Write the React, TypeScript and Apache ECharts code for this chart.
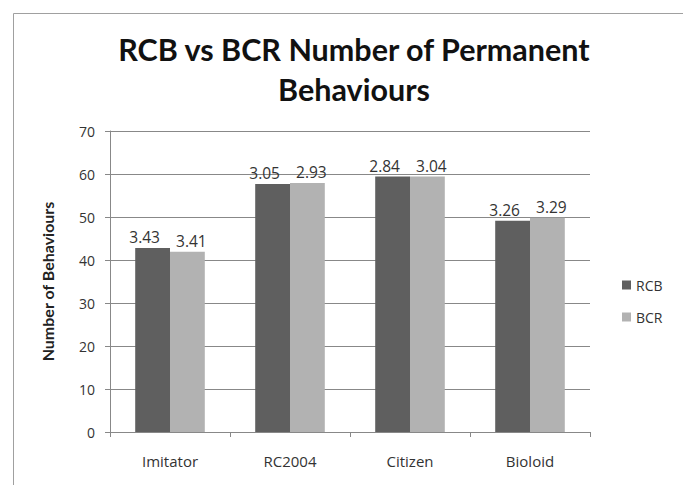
import React, { useEffect, useRef } from "react";
import * as echarts from "echarts";

const categories = ["Imitator", "RC2004", "Citizen", "Bioloid"];
const rcbValues = [42.8, 57.7, 59.4, 49.1];
const bcrValues = [41.9, 57.9, 59.4, 49.8];
const rcbLabels = ["3.43", "3.05", "2.84", "3.26"];
const bcrLabels = ["3.41", "2.93", "3.04", "3.29"];
const seriesNames = ["RCB", "BCR"];
const yTicks = { min: 0, max: 70, interval: 10 };

export default function App() {
  const ref = useRef<HTMLDivElement>(null);
  useEffect(() => {
    document.body.style.margin = "0";
    const chart = echarts.init(ref.current!, undefined, { renderer: "svg" });
    const font = "Open Sans";
    const labelStyle = { color: "#333", fontSize: 15.5, fontFamily: font };
    chart.setOption({
      animation: false,
      backgroundColor: "#fff",
      graphic: [
        {
          type: "rect",
          shape: { x: 13.5, y: 13.5, width: 700, height: 500 },
          style: { fill: "none", stroke: "#a0a0a0", lineWidth: 1 },
          silent: true,
        },
      ],
      title: {
        text: "RCB vs BCR Number of Permanent\nBehaviours",
        left: 349,
        top: 24,
        textAlign: "center",
        textStyle: {
          fontFamily: "Lato",
          fontWeight: "bold",
          fontSize: 30.5,
          lineHeight: 40,
          color: "#111",
        },
      },
      legend: {
        orient: "vertical",
        left: 617,
        top: 273,
        itemWidth: 9,
        itemHeight: 9,
        itemGap: 18,
        icon: "rect",
        textStyle: { fontSize: 14, fontFamily: font, color: "#333" },
        data: seriesNames,
      },
      grid: { left: 110, right: 93, top: 131, bottom: 53 },
      xAxis: {
        type: "category",
        data: categories,
        axisLine: { lineStyle: { color: "#888" } },
        axisTick: { show: true, length: 5, lineStyle: { color: "#888" } },
        axisLabel: { margin: 21, fontSize: 15, fontFamily: font, color: "#333" },
      },
      yAxis: {
        type: "value",
        name: "Number of Behaviours",
        nameLocation: "middle",
        nameGap: 55,
        nameTextStyle: { fontSize: 16, fontWeight: "bold", fontFamily: "Lato", color: "#222" },
        min: yTicks.min,
        max: yTicks.max,
        interval: yTicks.interval,
        axisLine: { show: true, lineStyle: { color: "#888" } },
        axisTick: { show: true, length: 5, lineStyle: { color: "#888" } },
        axisLabel: { margin: 15, fontSize: 14, fontFamily: font, color: "#333" },
        splitLine: { lineStyle: { color: "#888" } },
      },
      series: [
        {
          name: seriesNames[0],
          type: "bar",
          data: rcbValues,
          barGap: "0%",
          barCategoryGap: "42%",
          itemStyle: { color: "#5f5f5f" },
          label: {
            show: true,
            position: "top",
            distance: 3,
            offset: [-8, 0],
            ...labelStyle,
            formatter: (p: any) => rcbLabels[p.dataIndex],
          },
        },
        {
          name: seriesNames[1],
          type: "bar",
          data: bcrValues,
          itemStyle: { color: "#b2b2b2" },
          label: {
            show: true,
            position: "top",
            distance: 3,
            offset: [4, 0],
            ...labelStyle,
            formatter: (p: any) => bcrLabels[p.dataIndex],
          },
        },
      ],
    });
    return () => chart.dispose();
  }, []);
  return <div ref={ref} style={{ width: 683, height: 485 }} />;
}
